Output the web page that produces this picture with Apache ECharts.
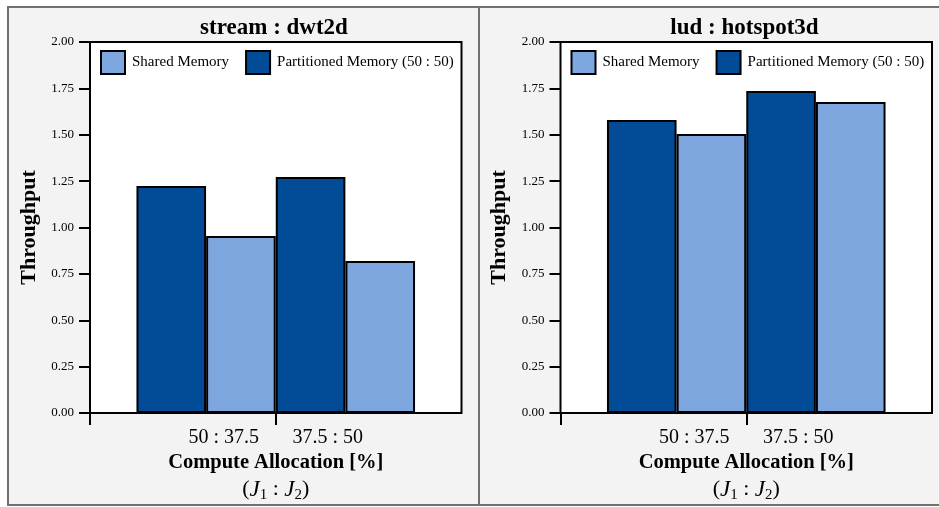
<!DOCTYPE html>
<html>
<head>
<meta charset="utf-8">
<script src="https://cdn.jsdelivr.net/npm/echarts@6/dist/echarts.min.js"></script>
<style>
  html, body { margin: 0; padding: 0; background: #fff; }
  #main { width: 939px; height: 507px; }
</style>
</head>
<body>
<div id="main"></div>
<script>
// data
var titles = ['stream : dwt2d', 'lud : hotspot3d'];
var categories = ['50 : 37.5', '37.5 : 50'];
var sharedMem = [[0.954, 0.819], [1.504, 1.677]];       // Shared Memory
var partMem = [[1.224, 1.272], [1.579, 1.736]];         // Partitioned Memory (50 : 50)

var DARK = '#024b97';
var LIGHT = '#7fa7df';
var FONT = '"Liberation Serif", "Times New Roman", serif';

// x axis positions (value axis from 0 to 2)
var groupCenter = function (i) { return 0.625 + 0.75 * i; };
var halfBar = 0.1875;
var labelPos = [0.72, 1.28];

var dom = document.getElementById('main');
var myChart = echarts.init(dom);

var grids = [], xAxes = [], yAxes = [], series = [], legends = [], titleList = [];
var gridLeft = [90, 560.5];

for (var p = 0; p < 2; p++) {
    grids.push({
        left: gridLeft[p], top: 42, width: 371.5, height: 371,
        outerBoundsMode: 'none',
        show: true, backgroundColor: '#fff', borderColor: '#000', borderWidth: 2
    });
    titleList.push({
        text: titles[p],
        left: gridLeft[p] + 179, top: 12, textAlign: 'center',
        textStyle: { fontFamily: FONT, fontWeight: 'bold', fontSize: 23, color: '#000' }
    });
    xAxes.push({
        gridIndex: p, type: 'value', min: 0, max: 2,
        axisLine: { show: false },
        splitLine: { show: false },
        axisTick: { show: true, length: 12, customValues: [0, 1], lineStyle: { color: '#000', width: 2 } },
        axisLabel: {
            customValues: labelPos, margin: 15,
            fontFamily: FONT, fontSize: 20, color: '#000',
            formatter: function (v) {
                return Math.abs(v - labelPos[0]) < 0.01 ? categories[0] : categories[1];
            }
        },
        name: '{b|Compute Allocation [%]}\n{n|(}{i|J}{s|1}{n| : }{i|J}{s|2}{n|)}',
        nameLocation: 'middle', nameGap: 36, nameMoveOverlap: false,
        nameTextStyle: {
            fontFamily: FONT, color: '#000', lineHeight: 27,
            rich: {
                b: { fontFamily: FONT, fontWeight: 'bold', fontSize: 20.5, lineHeight: 27, color: '#000' },
                n: { fontFamily: FONT, fontSize: 22, lineHeight: 27, color: '#000' },
                i: { fontFamily: FONT, fontStyle: 'italic', fontSize: 23, lineHeight: 27, color: '#000' },
                s: { fontFamily: FONT, fontSize: 15, lineHeight: 27, verticalAlign: 'bottom', padding: [7, 0, 0, 0], color: '#000' }
            }
        }
    });
    yAxes.push({
        gridIndex: p, type: 'value', min: 0, max: 2, interval: 0.25,
        axisLine: { show: false },
        splitLine: { show: false },
        axisTick: { show: true, length: 11, lineStyle: { color: '#000', width: 2 } },
        axisLabel: {
            margin: 16, fontFamily: FONT, fontSize: 13, color: '#000',
            formatter: function (v) { return v.toFixed(2); }
        },
        name: 'Throughput', nameLocation: 'middle', nameGap: 50, nameRotate: 90,
        nameMoveOverlap: false,
        nameTextStyle: { fontFamily: FONT, fontWeight: 'bold', fontSize: 22, color: '#000' }
    });
    var dData = [], lData = [];
    for (var i = 0; i < categories.length; i++) {
        dData.push([groupCenter(i) - halfBar, partMem[p][i]]);
        lData.push([groupCenter(i) + halfBar, sharedMem[p][i]]);
    }
    series.push({
        name: 'Partitioned Memory (50 : 50)', type: 'bar',
        xAxisIndex: p, yAxisIndex: p, data: dData,
        barWidth: 69.6, barGap: '-100%',
        itemStyle: { color: DARK, borderColor: '#000', borderWidth: 2 }
    });
    series.push({
        name: 'Shared Memory', type: 'bar',
        xAxisIndex: p, yAxisIndex: p, data: lData,
        barWidth: 69.6, barGap: '-100%',
        itemStyle: { color: LIGHT, borderColor: '#000', borderWidth: 2 }
    });
    legends.push({
        data: ['Shared Memory', 'Partitioned Memory (50 : 50)'],
        left: gridLeft[p] + 5, top: 45,
        itemWidth: 24, itemHeight: 23, itemGap: 16, icon: 'rect',
        itemStyle: { borderColor: '#000', borderWidth: 2 },
        textStyle: { fontFamily: FONT, fontSize: 15, color: '#000', padding: [0, 0, 0, 2] },
        selectedMode: false
    });
}

var option = {
    backgroundColor: '#fff',
    animation: false,
    title: titleList,
    legend: legends,
    grid: grids,
    xAxis: xAxes,
    yAxis: yAxes,
    series: series,
    graphic: [
        { type: 'rect', z: -10, silent: true, shape: { x: 8, y: 7, width: 945, height: 498 },
          style: { fill: '#f3f3f3', stroke: '#707070', lineWidth: 2 } },
        { type: 'line', z: -9, silent: true, shape: { x1: 479, y1: 7, x2: 479, y2: 505 },
          style: { stroke: '#707070', lineWidth: 2 } }
    ]
};

if (option && typeof option === "object") {
    myChart.setOption(option, true);
}
</script>
</body>
</html>
